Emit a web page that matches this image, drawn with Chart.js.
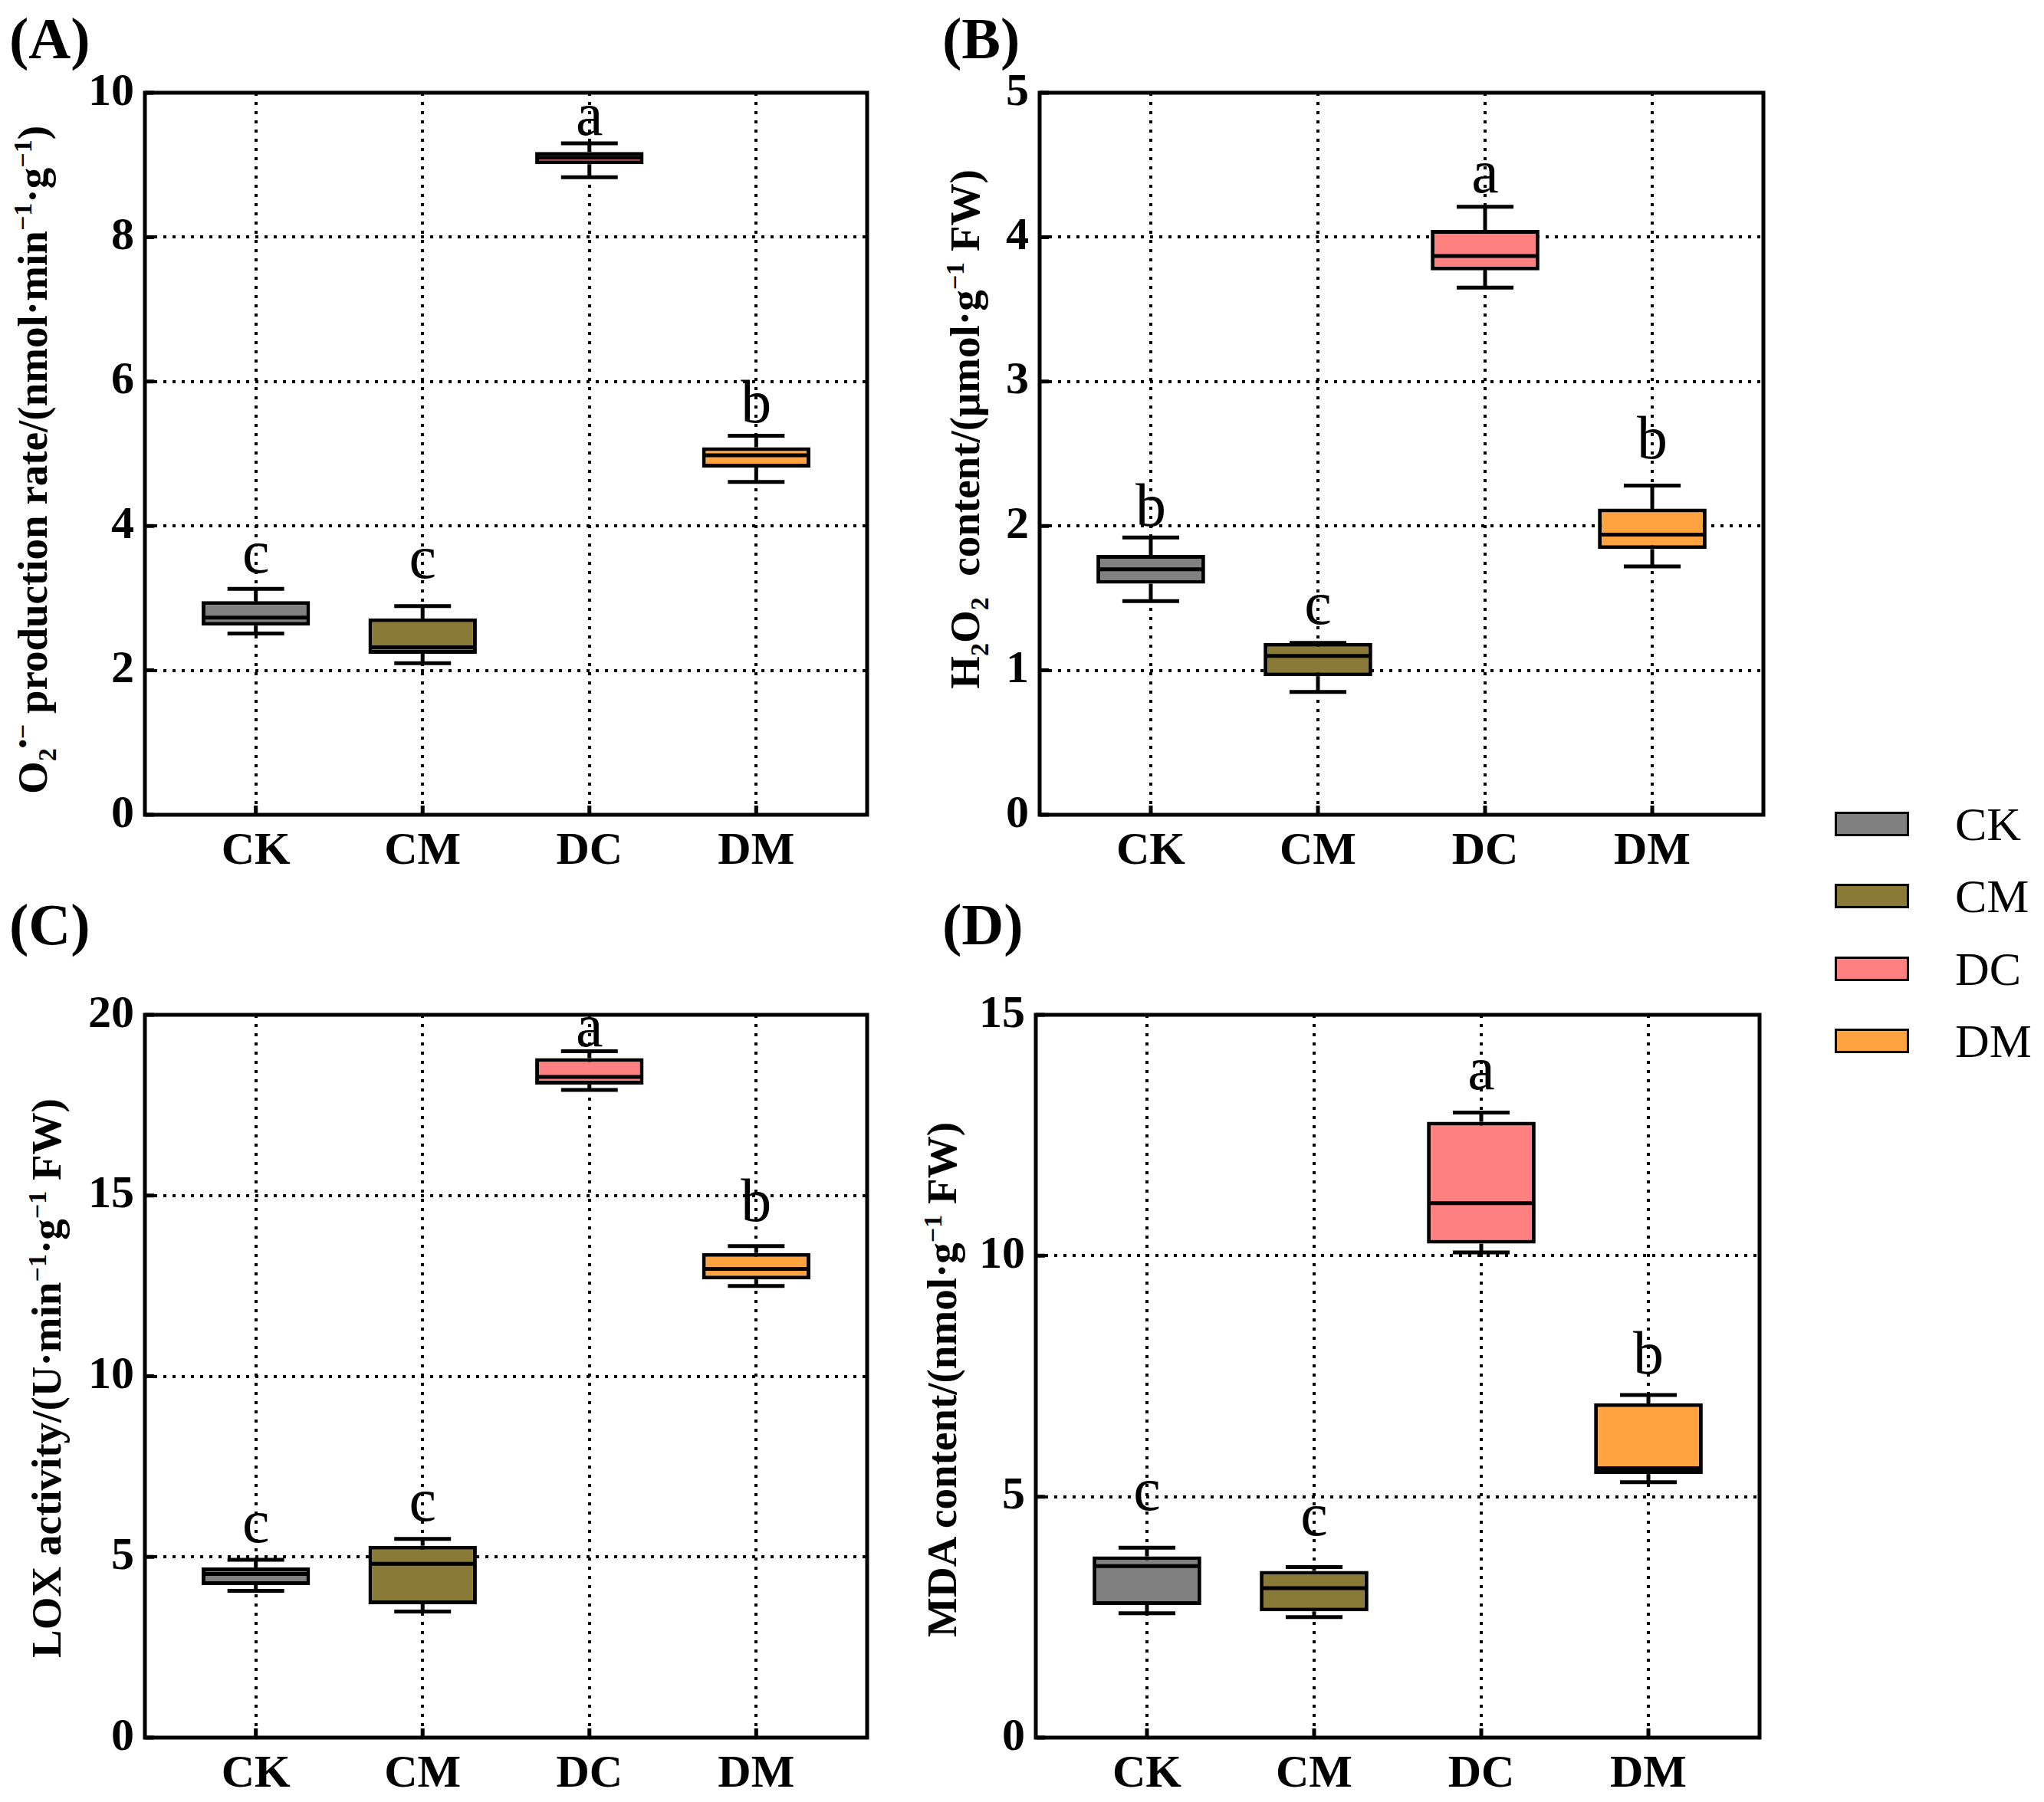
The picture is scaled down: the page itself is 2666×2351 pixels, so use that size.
<!DOCTYPE html>
<html lang="en">
<head>
<meta charset="UTF-8">
<title>Box plots CK / CM / DC / DM</title>
<script src="https://cdn.jsdelivr.net/npm/chart.js"></script>
<style>
  body {
    margin: 0;
    width: 2666px;
    height: 2351px;
    background: #fff;
    position: relative;
    overflow: hidden;
    font-family: 'Liberation Serif', 'Times New Roman', serif;
    color: #000;
  }
  canvas { position: absolute; }
  .tag {
    position: absolute;
    font-weight: bold;
    font-size: 76px;
    line-height: 1;
  }
  .ytitle {
    position: absolute;
    font-weight: bold;
    font-size: 55px;
    white-space: nowrap;
    line-height: 1;
    transform: translate(-50%, -50%) rotate(-90deg);
  }
  .ytitle sup, .ytitle sub { font-size: 0.62em; }
  .leg-box {
    position: absolute;
    width: 91px;
    height: 26px;
    border: 3px solid #000;
  }
  .leg-txt {
    position: absolute;
    font-size: 62px;
    line-height: 1;
  }
</style>
</head>
<body>

<div class="tag" style="left:12px; top:12px;">(A)</div>
<div class="tag" style="left:1229px; top:12px;">(B)</div>
<div class="tag" style="left:12px; top:1168px;">(C)</div>
<div class="tag" style="left:1229px; top:1168px;">(D)</div>

<div class="ytitle" style="left:46px; top:600px;">O<sub>2</sub><sup>•−</sup> production rate/(nmol·min<sup>−1</sup>·g<sup>−1</sup>)</div>
<div class="ytitle" style="left:1262px; top:560px;">H<sub>2</sub>O<sub>2</sub>&nbsp; content/(μmol·g<sup>−1</sup> FW)</div>
<div class="ytitle" style="left:60px; top:1798px;">LOX activity/(U·min<sup>−1</sup>·g<sup>−1</sup> FW)</div>
<div class="ytitle" style="left:1228px; top:1800px;">MDA content/(nmol·g<sup>−1</sup> FW)</div>

<div id="legend"></div>

<canvas id="chartA"></canvas>
<canvas id="chartB"></canvas>
<canvas id="chartC"></canvas>
<canvas id="chartD"></canvas>

<script>
const groups = ['CK', 'CM', 'DC', 'DM'];
const fills = ['#808080', '#8a7a38', '#ff8080', '#ffa340'];

// (A) O2- production rate
const o2Ticks = [0, 2, 4, 6, 8, 10];
const o2Min = [2.51, 2.10, 8.83, 4.61];
const o2Q1 = [2.62, 2.23, 9.01, 4.81];
const o2Med = [2.73, 2.32, 9.10, 4.98];
const o2Q3 = [2.96, 2.72, 9.18, 5.09];
const o2Max = [3.13, 2.89, 9.30, 5.25];
const o2Letters = ['c', 'c', 'a', 'b'];
const o2LetterY = [3.35, 3.28, 9.42, 5.44];

// (B) H2O2 content
const h2o2Ticks = [0, 1, 2, 3, 4, 5];
const h2o2Min = [1.48, 0.85, 3.65, 1.72];
const h2o2Q1 = [1.60, 0.96, 3.77, 1.84];
const h2o2Med = [1.70, 1.10, 3.87, 1.94];
const h2o2Q3 = [1.80, 1.19, 4.05, 2.12];
const h2o2Max = [1.92, 1.19, 4.21, 2.28];
const h2o2Letters = ['b', 'c', 'a', 'b'];
const h2o2LetterY = [2.00, 1.32, 4.31, 2.47];

// (C) LOX activity
const loxTicks = [0, 5, 10, 15, 20];
const loxMin = [4.06, 3.49, 17.92, 12.50];
const loxQ1 = [4.22, 3.69, 18.07, 12.68];
const loxMed = [4.53, 4.81, 18.28, 12.97];
const loxQ3 = [4.71, 5.31, 18.80, 13.41];
const loxMax = [4.92, 5.50, 18.99, 13.60];
const loxLetters = ['c', 'c', 'a', 'b'];
const loxLetterY = [5.41, 6.01, 19.12, 14.29];

// (D) MDA content
const mdaTicks = [0, 5, 10, 15];
const mdaMin = [2.58, 2.50, 10.07, 5.30];
const mdaQ1 = [2.75, 2.62, 10.25, 5.47];
const mdaMed = [3.56, 3.10, 11.09, 5.59];
const mdaQ3 = [3.76, 3.46, 12.78, 6.94];
const mdaMax = [3.94, 3.54, 12.97, 7.11];
const mdaLetters = ['c', 'c', 'a', 'b'];
const mdaLetterY = [4.72, 4.20, 13.45, 7.55];

const serif = 'Liberation Serif';
const LINE = 5;

// whiskers, medians and letters on top of the floating bars
const boxParts = {
  id: 'boxParts',
  afterDatasetsDraw(chart, args, o) {
    const xs = chart.scales.x, ys = chart.scales.y, ctx = chart.ctx;
    const bars = chart.getDatasetMeta(0).data;
    const seg = (x1, y1, x2, y2) => { ctx.beginPath(); ctx.moveTo(x1, y1); ctx.lineTo(x2, y2); ctx.stroke(); };
    ctx.save();
    ctx.strokeStyle = '#000';
    ctx.lineWidth = LINE;
    ctx.lineCap = 'butt';
    groups.forEach((g, i) => {
      const cx = xs.getPixelForValue(i);
      const half = bars[i].width / 2;
      const cap = xs.getPixelForValue(i + 0.17) - cx;
      const yMin = ys.getPixelForValue(o.min[i]);
      const yMax = ys.getPixelForValue(o.max[i]);
      const yQ1 = ys.getPixelForValue(o.q1[i]);
      const yQ3 = ys.getPixelForValue(o.q3[i]);
      const yMed = ys.getPixelForValue(o.med[i]);
      if (yMax < yQ3 - 1) seg(cx, yQ3, cx, yMax);
      seg(cx - cap, yMax, cx + cap, yMax);
      seg(cx, yQ1, cx, yMin);
      seg(cx - cap, yMin, cx + cap, yMin);
      seg(cx - half + 2, yMed, cx + half - 2, yMed);
      ctx.fillStyle = '#000';
      ctx.font = '80px "' + serif + '"';
      ctx.textAlign = 'center';
      ctx.textBaseline = 'alphabetic';
      ctx.fillText(o.letters[i], cx, ys.getPixelForValue(o.letterY[i]));
    });
    ctx.restore();
  },
  afterDraw(chart) {
    const a = chart.chartArea, ctx = chart.ctx;
    const xs = chart.scales.x, ys = chart.scales.y;
    ctx.save();
    ctx.strokeStyle = '#000';
    ctx.lineWidth = LINE;
    ctx.strokeRect(a.left, a.top, a.right - a.left, a.bottom - a.top);
    ctx.beginPath();
    ys.ticks.forEach(t => {
      const y = ys.getPixelForValue(t.value);
      ctx.moveTo(a.left, y); ctx.lineTo(a.left + 12, y);
    });
    xs.ticks.forEach(t => {
      const x = xs.getPixelForValue(t.value);
      ctx.moveTo(x, a.bottom); ctx.lineTo(x, a.bottom - 12);
    });
    ctx.stroke();
    ctx.restore();
  }
};

function makePanel(id, area, ticks, min, q1, med, q3, max, letters, letterY) {
  const yW = 180, xH = 84, padRight = 20;
  const cv = document.getElementById(id);
  const w = area.r - area.l + yW + padRight;
  const h = area.b - area.t + xH;
  cv.width = w; cv.height = h;

  const chart = new Chart(cv, {
    type: 'bar',
    data: {
      datasets: [{
        data: groups.map((g, i) => ({ x: i, y: [q1[i], q3[i]] })),
        backgroundColor: fills,
        borderColor: '#000',
        borderWidth: LINE,
        borderSkipped: false,
        barPercentage: 0.65,
        categoryPercentage: 1
      }]
    },
    options: {
      responsive: false,
      maintainAspectRatio: false,
      animation: false,
      devicePixelRatio: 1,
      layout: { padding: { top: 0, right: padRight, left: 0, bottom: 0 } },
      plugins: {
        legend: { display: false },
        tooltip: { enabled: false },
        boxParts: { min, q1, med, q3, max, letters, letterY }
      },
      scales: {
        x: {
          type: 'linear',
          min: -0.665,
          max: 3.665,
          offset: false,
          afterBuildTicks: s => { s.ticks = groups.map((g, i) => ({ value: i })); },
          afterFit: s => { s.height = xH; },
          grid: { offset: false, color: '#000', lineWidth: 4, drawTicks: false },
          border: { display: false, dash: [4, 8] },
          ticks: {
            padding: 12,
            color: '#000',
            font: { family: serif, size: 60, weight: 'bold' },
            callback: v => groups[v]
          }
        },
        y: {
          min: ticks[0],
          max: ticks[ticks.length - 1],
          afterBuildTicks: s => { s.ticks = ticks.map(v => ({ value: v })); },
          afterFit: s => { s.width = yW; },
          grid: { color: '#000', lineWidth: 4, drawTicks: false },
          border: { display: false, dash: [4, 8] },
          ticks: {
            padding: 14,
            color: '#000',
            font: { family: serif, size: 60, weight: 'bold' }
          }
        }
      }
    },
    plugins: [boxParts]
  });

  // the layout keeps room above the plot for the top tick label; grow the canvas by that much
  const extra = chart.chartArea.top;
  chart.resize(w, h + extra);
  cv.style.left = (area.l - chart.chartArea.left) + 'px';
  cv.style.top = (area.t - chart.chartArea.top) + 'px';
}

makePanel('chartA', { l: 189, t: 121, r: 1131, b: 1063 },
  o2Ticks, o2Min, o2Q1, o2Med, o2Q3, o2Max, o2Letters, o2LetterY);
makePanel('chartB', { l: 1356, t: 121, r: 2300, b: 1063 },
  h2o2Ticks, h2o2Min, h2o2Q1, h2o2Med, h2o2Q3, h2o2Max, h2o2Letters, h2o2LetterY);
makePanel('chartC', { l: 189, t: 1324, r: 1131, b: 2267 },
  loxTicks, loxMin, loxQ1, loxMed, loxQ3, loxMax, loxLetters, loxLetterY);
makePanel('chartD', { l: 1351, t: 1324, r: 2295, b: 2267 },
  mdaTicks, mdaMin, mdaQ1, mdaMed, mdaQ3, mdaMax, mdaLetters, mdaLetterY);

// legend at the right
const legY = [1075, 1169, 1264, 1358];
const leg = document.getElementById('legend');
groups.forEach((g, i) => {
  const b = document.createElement('div');
  b.className = 'leg-box';
  b.style.left = '2393px';
  b.style.top = (legY[i] - 16) + 'px';
  b.style.background = fills[i];
  leg.appendChild(b);
  const t = document.createElement('div');
  t.className = 'leg-txt';
  t.style.left = '2550px';
  t.style.top = (legY[i] - 31) + 'px';
  t.textContent = g;
  leg.appendChild(t);
});
</script>
</body>
</html>
